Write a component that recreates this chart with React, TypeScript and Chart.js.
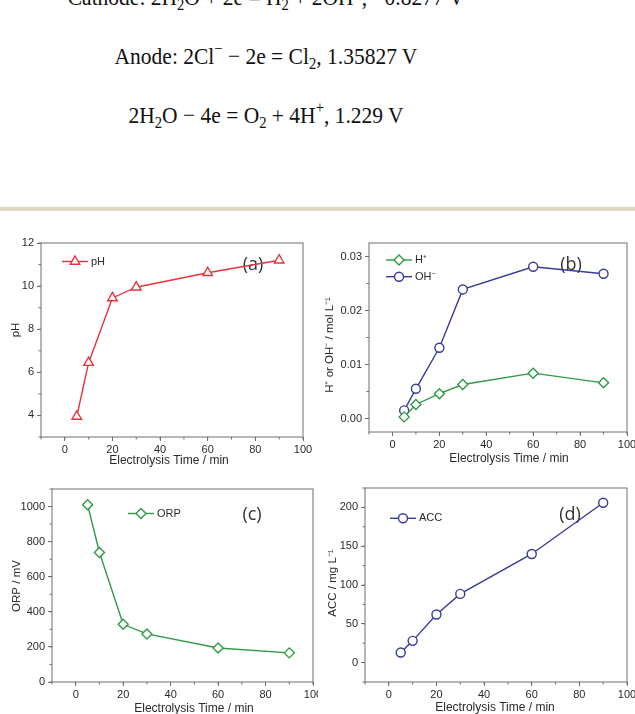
import React, { useEffect, useRef } from 'react';
import { Chart, registerables } from 'chart.js';

Chart.register(...registerables);

// ---------------- data ----------------
const times = [5, 10, 20, 30, 60, 90];
const pHValues = [3.95, 6.45, 9.45, 9.95, 10.62, 11.2];
const hPlusValues = [0.0003, 0.0026, 0.0046, 0.0063, 0.0084, 0.0066];
const ohMinusValues = [0.0015, 0.0055, 0.0131, 0.0239, 0.0281, 0.0268];
const orpValues = [1010, 738, 329, 274, 194, 166];
const accValues = [13, 28, 62, 88.5, 140, 206];

const timeTicks = [0, 20, 40, 60, 80, 100];
const pHTicks = [4, 6, 8, 10, 12];
const ionTicks = [0, 0.01, 0.02, 0.03];
const orpTicks = [0, 200, 400, 600, 800, 1000];
const accTicks = [0, 50, 100, 150, 200];

const xTitle = 'Electrolysis Time / min';

// ---------------- styles ----------------
const RED = '#e8343c';
const GREEN = '#2f9a45';
const BLUE = '#373c95';
const AXIS = '#6e6e6e';
const TEXT = '#2a2a2a';
const SANS = '"Liberation Sans", Arial, sans-serif';
const LETTER_FONT = '"Open Sans", "DejaVu Sans", sans-serif';

type Series = { label: string; values: number[]; color: string; marker: string; radius: number };
type Spec = {
  box: [number, number, number, number];
  plot: [number, number, number, number];
  series: Series[];
  yMin: number;
  yMax: number;
  yTicks: number[];
  yMinor: number;
  yFmt: (v: number) => string;
  yTitle: string;
  yTitleAt: [number, number];
  xTitleAt: [number, number];
  letter: string;
  letterAt: [number, number];
  legendAt: [number, number];
};

const specs: Spec[] = [
  {
    box: [0, 220, 318, 252],
    plot: [41, 243, 303, 437],
    series: [{ label: 'pH', values: pHValues, color: RED, marker: 'triangle', radius: 5.5 }],
    yMin: 3, yMax: 12, yTicks: pHTicks, yMinor: 1,
    yFmt: (v) => String(v),
    yTitle: 'pH', yTitleAt: [16, 330], xTitleAt: [169, 461],
    letter: '(a)', letterAt: [253, 265], legendAt: [62, 261.5],
  },
  {
    box: [318, 220, 317, 252],
    plot: [369, 243, 627, 432],
    series: [
      { label: 'H⁺', values: hPlusValues, color: GREEN, marker: 'rectRot', radius: 5 },
      { label: 'OH⁻', values: ohMinusValues, color: BLUE, marker: 'circle', radius: 4.5 },
    ],
    yMin: -0.0025, yMax: 0.0325, yTicks: ionTicks, yMinor: 0.005,
    yFmt: (v) => v.toFixed(2),
    yTitle: 'H⁺ or OH⁻ / mol L⁻¹', yTitleAt: [330, 345], xTitleAt: [509, 458.5],
    letter: '(b)', letterAt: [571, 265], legendAt: [386, 260],
  },
  {
    box: [0, 472, 318, 248],
    plot: [52, 489, 313, 682],
    series: [{ label: 'ORP', values: orpValues, color: GREEN, marker: 'rectRot', radius: 5 }],
    yMin: 0, yMax: 1100, yTicks: orpTicks, yMinor: 100,
    yFmt: (v) => String(v),
    yTitle: 'ORP / mV', yTitleAt: [17, 586], xTitleAt: [194, 708.5],
    letter: '(c)', letterAt: [252, 514.5], legendAt: [128, 513.5],
  },
  {
    box: [318, 472, 317, 248],
    plot: [365, 488, 627, 682],
    series: [{ label: 'ACC', values: accValues, color: BLUE, marker: 'circle', radius: 4.5 }],
    yMin: -25, yMax: 225, yTicks: accTicks, yMinor: 25,
    yFmt: (v) => String(v),
    yTitle: 'ACC / mg L⁻¹', yTitleAt: [333, 583], xTitleAt: [495, 707.5],
    letter: '(d)', letterAt: [570, 514.5], legendAt: [390, 518.3],
  },
];

function drawMarker(ctx: CanvasRenderingContext2D, style: string, x: number, y: number, r: number, color: string) {
  ctx.beginPath();
  if (style === 'circle') {
    ctx.arc(x, y, r, 0, Math.PI * 2);
  } else if (style === 'rectRot') {
    ctx.moveTo(x, y - r);
    ctx.lineTo(x + r, y);
    ctx.lineTo(x, y + r);
    ctx.lineTo(x - r, y);
    ctx.closePath();
  } else {
    let a = 0;
    ctx.moveTo(x + Math.sin(a) * r, y - Math.cos(a) * r);
    a += (Math.PI * 2) / 3;
    ctx.lineTo(x + Math.sin(a) * r, y - Math.cos(a) * r);
    a += (Math.PI * 2) / 3;
    ctx.lineTo(x + Math.sin(a) * r, y - Math.cos(a) * r);
    ctx.closePath();
  }
  ctx.fillStyle = '#ffffff';
  ctx.fill();
  ctx.strokeStyle = color;
  ctx.lineWidth = 1.4;
  ctx.stroke();
}

function Panel({ spec }: { spec: Spec }) {
  const ref = useRef<HTMLCanvasElement>(null);
  const [bl, bt, bw, bh] = spec.box;
  const cw = bw + 30;

  useEffect(() => {
    const [pl, pt, pr, pb] = spec.plot;
    const decor = {
      id: 'decor',
      beforeDatasetsDraw(chart: any) {
        const ctx = chart.ctx as CanvasRenderingContext2D;
        ctx.save();
        ctx.font = `18px ${LETTER_FONT}`;
        ctx.fillStyle = '#333333';
        ctx.textAlign = 'center';
        ctx.textBaseline = 'middle';
        ctx.fillText(spec.letter, spec.letterAt[0] - bl, spec.letterAt[1] - bt);
        ctx.restore();
      },
      afterDatasetsDraw(chart: any) {
        const ctx = chart.ctx as CanvasRenderingContext2D;
        ctx.save();
        ctx.font = `11px ${SANS}`;
        ctx.textBaseline = 'middle';
        spec.series.forEach((s, i) => {
          const x = spec.legendAt[0] - bl;
          const y = spec.legendAt[1] - bt + i * 16.7;
          ctx.strokeStyle = s.color;
          ctx.lineWidth = 1.4;
          ctx.beginPath();
          ctx.moveTo(x, y);
          ctx.lineTo(x + 26, y);
          ctx.stroke();
          drawMarker(ctx, s.marker, x + 13, y, s.radius, s.color);
          ctx.fillStyle = TEXT;
          ctx.textAlign = 'left';
          ctx.fillText(s.label, x + 29, y);
        });
        ctx.restore();
      },
      afterDraw(chart: any) {
        const ctx = chart.ctx as CanvasRenderingContext2D;
        const a = chart.chartArea;
        const xs = chart.scales.x;
        const ys = chart.scales.y;
        ctx.save();
        ctx.strokeStyle = AXIS;
        ctx.lineWidth = 1;
        ctx.strokeRect(a.left, a.top, a.right - a.left, a.bottom - a.top);
        ctx.beginPath();
        const xStep = 10;
        for (let k = Math.ceil(xs.min / xStep - 1e-9); k * xStep <= xs.max + 1e-9; k++) {
          const p = xs.getPixelForValue(k * xStep);
          ctx.moveTo(p, a.bottom);
          ctx.lineTo(p, a.bottom + 2.5);
        }
        const yStep = spec.yMinor;
        for (let k = Math.ceil(ys.min / yStep - 1e-9); k * yStep <= ys.max + 1e-9; k++) {
          const p = ys.getPixelForValue(k * yStep);
          ctx.moveTo(a.left, p);
          ctx.lineTo(a.left - 2.5, p);
        }
        ctx.stroke();
        // axis titles
        ctx.fillStyle = TEXT;
        ctx.font = `12px ${SANS}`;
        ctx.textAlign = 'center';
        ctx.textBaseline = 'middle';
        ctx.fillText(xTitle, spec.xTitleAt[0] - bl, spec.xTitleAt[1] - bt);
        ctx.font = `11.5px ${SANS}`;
        ctx.translate(spec.yTitleAt[0] - bl, spec.yTitleAt[1] - bt);
        ctx.rotate(-Math.PI / 2);
        ctx.fillText(spec.yTitle, 0, 0);
        ctx.restore();
      },
    };

    const chart = new Chart(ref.current as HTMLCanvasElement, {
      type: 'line',
      data: {
        datasets: spec.series.map((s) => ({
          label: s.label,
          data: times.map((t, i) => ({ x: t, y: s.values[i] })),
          borderColor: s.color,
          borderWidth: 1.4,
          pointStyle: s.marker as any,
          pointRadius: s.radius,
          pointBorderColor: s.color,
          pointBackgroundColor: '#ffffff',
          pointBorderWidth: 1.4,
          tension: 0,
          fill: false,
        })),
      },
      options: {
        animation: false,
        responsive: false,
        maintainAspectRatio: false,
        layout: { padding: { left: 0, bottom: 0, top: pt - bt, right: cw - (pr - bl) } },
        plugins: { legend: { display: false }, tooltip: { enabled: false } },
        scales: {
          x: {
            type: 'linear',
            min: -10,
            max: 100,
            afterBuildTicks: (s: any) => {
              s.ticks = timeTicks.map((v) => ({ value: v }));
            },
            afterFit: (s: any) => {
              s.height = bt + bh - pb;
            },
            ticks: { font: { family: SANS, size: 11 }, color: TEXT, padding: 2, maxRotation: 0, autoSkip: false, callback: (v: any) => String(v) },
            grid: { display: true, drawOnChartArea: false, drawTicks: true, tickLength: 4, color: AXIS, lineWidth: 1 },
            border: { display: false },
          },
          y: {
            type: 'linear',
            min: spec.yMin,
            max: spec.yMax,
            afterBuildTicks: (s: any) => {
              s.ticks = spec.yTicks.map((v) => ({ value: v }));
            },
            afterFit: (s: any) => {
              s.width = pl - bl;
            },
            ticks: { font: { family: SANS, size: 11 }, color: TEXT, padding: 3, autoSkip: false, callback: (v: any) => spec.yFmt(Number(v)) },
            grid: { display: true, drawOnChartArea: false, drawTicks: true, tickLength: 4, color: AXIS, lineWidth: 1 },
            border: { display: false },
          },
        },
      },
      plugins: [decor],
    });
    return () => chart.destroy();
  }, []);

  return (
    <div style={{ position: 'absolute', left: bl, top: bt, width: bw, height: bh, overflow: 'hidden' }}>
      <canvas ref={ref} width={cw} height={bh} style={{ display: 'block', width: cw, height: bh }} />
    </div>
  );
}

const subStyle: React.CSSProperties = { fontSize: '0.68em', position: 'relative', top: '0.32em' };
const supStyle: React.CSSProperties = { fontSize: '0.68em', position: 'relative', top: '-0.62em' };
const Sub = ({ children }: { children: React.ReactNode }) => <span style={subStyle}>{children}</span>;
const Sup = ({ children }: { children: React.ReactNode }) => <span style={supStyle}>{children}</span>;

// baseline sits ~18.4px below the top of a 21.5px line box
const lineStyle = (baseline: number): React.CSSProperties => ({
  position: 'absolute',
  left: 0,
  width: 532,
  top: baseline - 18.4,
  height: 22,
  textAlign: 'center',
  fontFamily: '"Liberation Serif", "Times New Roman", serif',
  fontSize: 21.5,
  lineHeight: '21.5px',
  color: '#111',
  whiteSpace: 'nowrap',
  transform: 'scaleY(1.12)',
  transformOrigin: '50% 18.4px',
});

export default function App() {
  return (
    <div style={{ position: 'absolute', left: 0, top: 0, width: 635, height: 714, overflow: 'hidden', background: '#ffffff' }}>
      <div style={lineStyle(6.5)}>
        Cathode: 2H<Sub>2</Sub>O + 2e = H<Sub>2</Sub> + 2OH<Sup>−</Sup>, −0.8277 V
      </div>
      <div style={lineStyle(65)}>
        Anode: 2Cl<Sup>−</Sup> − 2e = Cl<Sub>2</Sub>, 1.35827 V
      </div>
      <div style={lineStyle(124)}>
        2H<Sub>2</Sub>O − 4e = O<Sub>2</Sub> + 4H<Sup>+</Sup>, 1.229 V
      </div>
      <div style={{ position: 'absolute', left: 0, top: 207, width: 635, height: 4, background: '#ddd8c8' }} />
      {specs.map((s, i) => (
        <Panel key={i} spec={s} />
      ))}
    </div>
  );
}
